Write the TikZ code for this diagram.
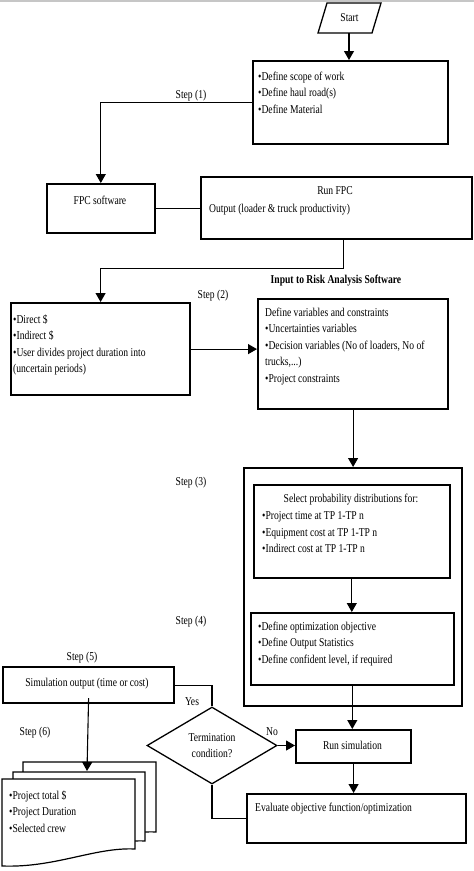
\documentclass[tikz,border=0pt]{standalone}
\usepackage{fontspec}
\setmainfont{Liberation Serif}[FakeStretch=0.8]
\usetikzlibrary{shapes.geometric,arrows.meta,calc}
\tikzset{
  box/.style={draw, line width=2.2pt, inner sep=0pt, anchor=north west},
  thinbox/.style={draw, line width=1.6pt, inner sep=0pt, anchor=north west},
  txt/.style={inner sep=0pt, anchor=north west, align=left, font=\fontsize{12}{16.5}\selectfont},
  lbl/.style={inner sep=0pt, font=\fontsize{12}{16.5}\selectfont},
  conn/.style={line width=1.1pt},
  arr/.style={line width=1.1pt, -{Triangle[length=9pt,width=10pt]}},
}
\begin{document}
\begin{tikzpicture}[x=1pt,y=-1pt]
\useasboundingbox (0,0) rectangle (474,871);
\fill[white] (0,0) rectangle (474,871);
\fill[gray!45] (0,0) rectangle (474,2.2);

% Start
\draw[line width=1.3pt] (327,3) -- (381,3) -- (372,33) -- (318,33) -- cycle;
\node[lbl] (start) at (349.5,18) {Start};
\coordinate (startb) at (349,33);

% Box 1
\node[box, minimum width=195pt, minimum height=83pt] (b1) at (252,60) {};
\node[txt] (b1t) at (258,71.5) {\textbullet Define scope of work\\\textbullet Define haul road(s)\\\textbullet Define Material};
\draw[arr] (startb) -- (b1.north -| startb);

% FPC software
\node[thinbox, minimum width=108pt, minimum height=49pt] (fpc) at (46,183) {};
\node[lbl] (fpct) at (100,200) {FPC software};

% Run FPC
\node[thinbox, minimum width=271pt, minimum height=62pt] (run) at (200,176) {};
\node[lbl] (runt) at (335,191) {Run FPC};
\node[lbl, anchor=west] (runt2) at (209,210) {Output (loader \& truck productivity)};

\draw[arr] (b1.west) -| (fpc.north);
\node[lbl] (s1) at (191,96) {Step (1)};
\draw[conn] (fpc.east) -- (fpc.east -| run.west);

% Box 2
\node[box, minimum width=179pt, minimum height=92pt] (b2) at (10,302) {};
\node[txt] (b2t) at (13,314.5) {\textbullet Direct \$\\\textbullet Indirect \$\\\textbullet User divides project duration into\\(uncertain periods)};
\draw[arr] ([xshift=7.5pt]run.south) -- ++(0,29) -| (b2.north);

\node[lbl] (s2) at (213,296) {Step (2)};
\node[lbl, font=\fontsize{12}{16.5}\selectfont\bfseries] (inp) at (336,281) {Input to Risk Analysis Software};

% Box 3
\node[box, minimum width=190pt, minimum height=110pt] (b3) at (257,298) {};
\node[txt] (b3t) at (265,307.5) {Define variables and constraints\\\textbullet Uncertainties variables\\\textbullet Decision variables (No of loaders, No of\\trucks,...)\\\textbullet Project constraints};
\draw[arr] (b2.east) -- (b2.east -| b3.west);

% Big box
\node[box, minimum width=218pt, minimum height=238pt] (big) at (243,467) {};
\draw[arr] (b3.south) -- (b3.south |- big.north);

% Inner A
\node[thinbox, minimum width=196pt, minimum height=93pt] (ia) at (253,484) {};
\node[lbl] (iat) at (351,500) {Select probability distributions for:};
\node[txt] (iat2) at (262,511.5) {\textbullet Project time at TP 1-TP n\\\textbullet Equipment cost at TP 1-TP n\\\textbullet Indirect cost at TP 1-TP n};

% Inner B
\node[thinbox, minimum width=203pt, minimum height=72pt] (ib) at (250,612) {};
\node[txt] (ibt) at (258,621.5) {\textbullet Define optimization objective\\\textbullet Define Output Statistics\\\textbullet Define confident level, if required};
\draw[arr] (ia.south) -- (ia.south |- ib.north);

\node[lbl] (s3) at (191,483) {Step (3)};
\node[lbl] (s4) at (191,622) {Step (4)};

% Run simulation
\node[box, minimum width=115pt, minimum height=33pt] (rs) at (295,729) {};
\node[lbl] (rst) at (352.5,745) {Run simulation};
\draw[arr] (ib.south) -- (ib.south |- rs.north);

% Evaluate
\node[box, minimum width=219pt, minimum height=49pt] (ev) at (246,793) {};
\node[lbl, anchor=west] (evt) at (255,809) {Evaluate objective function/optimization};
\draw[arr] (rs.south) -- (rs.south |- ev.north);

% Diamond
\node[draw, line width=1.3pt, diamond, aspect=1.7, inner sep=0pt, minimum width=130pt, minimum height=77pt, align=center, font=\fontsize{12}{15.5}\selectfont] (dm) at (212,745.5) {Termination\\condition?};
\draw[conn] (ev.west) -| (dm.south);
\draw[arr] (dm.east) -- (dm.east -| rs.west);
\node[lbl] (no) at (272,732) {No};

% Simulation output
\node[box, minimum width=171pt, minimum height=36pt] (so) at (2,666) {};
\node[lbl] (sot) at (87,684) {Simulation output (time or cost)};
\draw[conn] (dm.north) |- (so.east);
\node[lbl] (yes) at (192,702) {Yes};
\node[lbl] (s5) at (82,658) {Step (5)};
\node[lbl] (s6) at (35,733) {Step (6)};

% Documents
\draw[line width=1.2pt, fill=white] (23,762) -- (156,762) -- (156,832) .. controls (120,830) and (90,850) .. (50,852) -- (23,852) -- cycle;
\draw[line width=1.2pt, fill=white] (13,772) -- (145,772) -- (145,841) .. controls (110,839) and (80,859) .. (40,861) -- (13,861) -- cycle;
\draw[line width=1.2pt, fill=white] (2,779) -- (135,779) -- (135,849) .. controls (95,847) and (55,868) .. (2,866) -- cycle;
\coordinate (docin) at (87,771);
\draw[arr] ([yshift=6pt]so.south) -- (docin);
\node[txt] (dt) at (9,790.5) {\textbullet Project total \$\\\textbullet Project Duration\\\textbullet Selected crew};
\end{tikzpicture}
\end{document}
